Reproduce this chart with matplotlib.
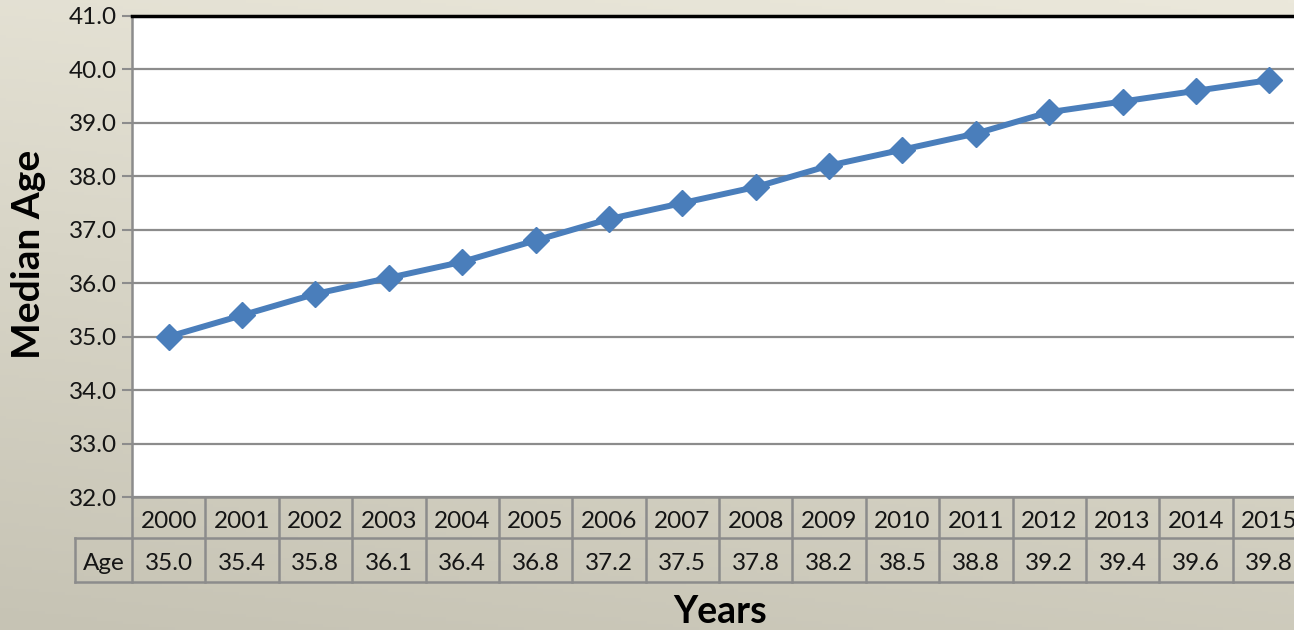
import numpy as np
import matplotlib
matplotlib.use("Agg")
import matplotlib.pyplot as plt
from matplotlib.transforms import blended_transform_factory
from matplotlib.lines import Line2D

years = ["2000", "2001", "2002", "2003", "2004", "2005", "2006", "2007",
         "2008", "2009", "2010", "2011", "2012", "2013", "2014", "2015"]
ages = [35.0, 35.4, 35.8, 36.1, 36.4, 36.8, 37.2, 37.5,
        37.8, 38.2, 38.5, 38.8, 39.2, 39.4, 39.6, 39.8]
row_label = "Age"
y_ticks = [32, 33, 34, 35, 36, 37, 38, 39, 40, 41]
y_title = "Median Age"
x_title = "Years"

W, H = 1294, 630
FONT = ["Lato", "DejaVu Sans"]
plt.rcParams['font.family'] = FONT
FS = 17.5
TXT = "#151515"

fig = plt.figure(figsize=(W / 100, H / 100), dpi=100)

# background gradient
bg = fig.add_axes([0, 0, 1, 1], zorder=-10)
yy, xx = np.mgrid[0:1:200j, 0:1:200j]
t = 0.8 * yy + 0.2 * (1 - xx)
top = np.array([0xEB, 0xE8, 0xDB]) / 255
bot = np.array([0xC6, 0xC3, 0xB4]) / 255
img = top[None, None, :] * (1 - t[..., None]) + bot[None, None, :] * t[..., None]
bg.imshow(img, aspect='auto', extent=[0, 1, 0, 1], origin='upper')
bg.axis('off')

# plot area in pixels
L, R, T, B = 132, 1306, 16, 497
ax = fig.add_axes([L / W, 1 - B / H, (R - L) / W, (B - T) / H])
ax.set_facecolor("white")

x = np.arange(len(years))
ax.plot(x, ages, color="#4A7EBB", lw=4.3, marker="D", markersize=13,
        markeredgecolor="#4A7EBB", zorder=5, clip_on=False)

ax.set_xlim(-0.5, len(years) - 0.5)
ax.set_ylim(min(y_ticks), max(y_ticks))
ax.set_yticks(y_ticks)
ax.set_yticklabels([f"{v:.1f}" for v in y_ticks], fontsize=FS, color=TXT)
ax.set_xticks([])
grid_c = "#8C8C8C"
ax.yaxis.grid(True, color=grid_c, lw=1.6)
ax.set_axisbelow(True)
ax.tick_params(axis='y', length=7, width=1.5, color=grid_c, pad=4)
for s in ["right", "bottom"]:
    ax.spines[s].set_visible(False)
ax.spines["left"].set_color(grid_c)
ax.spines["left"].set_linewidth(1.8)
ax.spines["top"].set_color("black")
ax.spines["top"].set_linewidth(2.5)

# data table below axes
ah = B - T
r1 = -(538 - B) / ah
r2 = -(582 - B) / ah
lab_left = -(L - 75) / (R - L)
tr = blended_transform_factory(ax.transData, ax.transAxes)
tra = ax.transAxes
lkw = dict(color=grid_c, lw=1.8, clip_on=False)
ax.add_line(Line2D([0, 1], [0, 0], transform=tra, **lkw))
ax.add_line(Line2D([lab_left, 1], [r1, r1], transform=tra, **lkw))
ax.add_line(Line2D([lab_left, 1], [r2, r2], transform=tra, **lkw))
ax.add_line(Line2D([lab_left, lab_left], [r1, r2], transform=tra, **lkw))
for i in range(len(years) + 1):
    ax.add_line(Line2D([i - 0.5, i - 0.5], [0, r2], transform=tr, **lkw))
dy = -4 / ah
for i, (yr, a) in enumerate(zip(years, ages)):
    ax.text(i, r1 / 2 + dy, yr, transform=tr, ha='center', va='center',
            fontsize=FS, color=TXT, clip_on=False)
    ax.text(i, (r1 + r2) / 2 + dy, f"{a:.1f}", transform=tr, ha='center', va='center',
            fontsize=FS, color=TXT, clip_on=False)
ax.text(lab_left / 2, (r1 + r2) / 2 + dy, row_label, transform=tra, ha='center',
        va='center', fontsize=FS, color=TXT)

fig.text(29 / W, 1 - 254 / H, y_title, rotation=90, ha='center', va='center',
         fontsize=28, fontweight='bold', color="black")
fig.text(720 / W, 1 - 612 / H, x_title, ha='center', va='center',
         fontsize=27, fontweight='bold', color="black")

fig.savefig("out.png", dpi=100)
